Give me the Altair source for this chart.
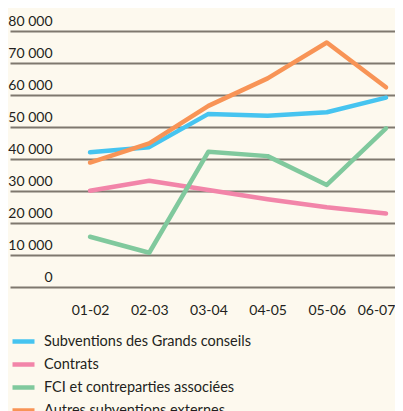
import altair as alt
import pandas as pd

periods = ["01-02", "02-03", "03-04", "04-05", "05-06", "06-07"]
grands_conseils = [42100, 43700, 54100, 53500, 54600, 59200]
contrats = [30100, 33200, 30300, 27400, 24900, 23000]
fci = [15700, 10700, 42300, 40900, 31900, 49600]
autres = [38900, 44900, 56600, 65200, 76400, 62400]

series_names = [
    "Subventions des Grands conseils",
    "Contrats",
    "FCI et contreparties associées",
    "Autres subventions externes",
]
series_values = [grands_conseils, contrats, fci, autres]
series_colors = ["#46c4f0", "#f285a9", "#80c99d", "#f89456"]
y_ticks = [0, 10000, 20000, 30000, 40000, 50000, 60000, 70000, 80000]

rows = []
for i, (name, vals) in enumerate(zip(series_names, series_values)):
    for p, v in zip(periods, vals):
        rows.append({"periode": p, "valeur": v, "serie": name, "ordre": i})
df = pd.DataFrame(rows)

FONT = "Lato"
TXT = "#231f20"

chart = (
    alt.Chart(df)
    .mark_line(strokeWidth=4.5, strokeCap="round", strokeJoin="round")
    .encode(
        x=alt.X(
            "periode:N",
            sort=periods,
            scale=alt.Scale(type="point", padding=0.752, align=0.899),
            axis=alt.Axis(
                title=None,
                domain=False,
                ticks=False,
                tickSize=0,
                labelPadding=16,
                labelAngle=0,
                labelOffset={
                    "condition": {"test": "datum.value == '06-07'", "value": -10},
                    "value": 0,
                },
                labelFont=FONT,
                labelFontSize=14,
                labelColor=TXT,
                grid=False,
            ),
        ),
        y=alt.Y(
            "valeur:Q",
            scale=alt.Scale(domain=[0, 80000], nice=False),
            axis=alt.Axis(
                title=None,
                values=y_ticks,
                domain=False,
                ticks=False,
                tickSize=0,
                labelAlign="right",
                labelBaseline="alphabetic",
                labelPadding=-42,
                labelOffset=-6,
                labelFont=FONT,
                labelFontSize=14,
                labelColor=TXT,
                labelExpr="replace(format(datum.value, ','), ',', ' ')",
                grid=True,
                gridColor="#7f786e",
                gridWidth=1.8,
                labelOverlap=False,
            ),
        ),
        color=alt.Color(
            "serie:N",
            scale=alt.Scale(domain=series_names, range=series_colors),
            legend=alt.Legend(
                title=None,
                orient="none",
                legendX=0,
                legendY=297,
                symbolType="stroke",
                symbolSize=484,
                symbolStrokeWidth=4.5,
                labelFont=FONT,
                labelFontSize=14.5,
                labelColor=TXT,
                labelOffset=7,
                labelLimit=0,
                rowPadding=0,
                padding=0,
            ),
        ),
        order=alt.Order("ordre:Q"),
        detail="serie:N",
    )
    .properties(
        width=385,
        height=256,
        background="#fdf9ee",
        padding={"left": 2, "top": 23, "right": 0, "bottom": 124},
        autosize=alt.AutoSizeParams(type="none"),
    )
    .configure_view(stroke=None)
)

chart.save("out.html", embed_options={"renderer": "svg", "actions": False})
